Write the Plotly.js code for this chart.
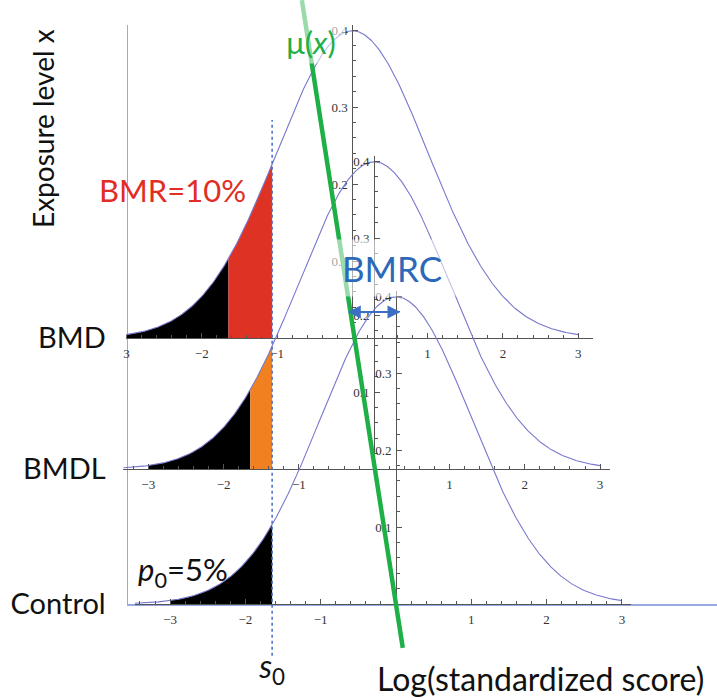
<!DOCTYPE html>
<html><head><meta charset="utf-8">
<script src="https://cdn.plot.ly/plotly-3.0.1.min.js"></script>
<style>html,body{margin:0;padding:0;background:#fff}#c{width:717px;height:698px}</style>
</head><body><div id="c"></div>
<script>
// ---------- data ----------
const panelNames   = ['BMD', 'BMDL', 'Control'];
const exposureLvl  = [2.0, 1.015, 0];          // exposure level of each panel
const panelMean    = [-0.58, -0.29, 0];         // mean log score (control units)
const s0           = -1.645;                    // control 5% cut-off (log score)
const p0Cut        = -1.645;                    // tail cut-off relative to each mean
const extraFill    = ['rgb(222,50,36)', 'rgb(240,128,32)', null];
const curveLo      = [-3.0, -3.33, -3.47];      // left end of each plotted curve
const curveHi      = [3, 3, 3];
const blackLo      = [-3.0, -3.0, -3.0];
const axisLo       = [-3.01, -3.33, -3.47];
const axisHi       = [3.2, 3.13, 3.12];
const xTickVals    = [-3, -2, -1, 1, 2, 3];
const xTickText    = [['3','−2','−1','1','2','3'], ['−3','−2','−1','1','2','3'], ['−3','−2','−1','1','2','3']];
const yTickVals    = [0.1, 0.2, 0.3, 0.4];
const yTickText    = ['0.1', '0.2', '0.3', '0.4'];
const muLineX      = [0.09, -1.25];            // μ(x) line, log score
const muLineY      = [-0.33, 4.54];            // μ(x) line, exposure
const s0LineY      = [-0.39, 3.64];
const bmrcArrowX   = [-0.66, 0.06];
const bmrcArrowY   = 2.195;

// ---------- layout geometry ----------
const W = 717, H = 698;
const X0 = 396, SX = 75.3;   // pixel of control mean, px per log-score unit
const Y0 = 604, SE = 133;    // pixel of control exposure, px per exposure unit
const SY = 770;              // px per density unit
const yTop = 0.406;

const pdf = z => Math.exp(-z * z / 2) / Math.sqrt(2 * Math.PI);
function curve(a, b) {
  const xs = [], ys = [];
  const n = Math.max(2, Math.round((b - a) / 0.01));
  for (let k = 0; k <= n; k++) { const x = a + (b - a) * k / n; xs.push(x); ys.push(pdf(x)); }
  return {xs, ys};
}

const tickFont = {family: 'Liberation Serif, serif', size: 13, color: '#333'};
const axisCol = '#555';
const traces = [];
const layout = {
  width: W, height: H, margin: {l: 0, r: 0, t: 0, b: 0},
  paper_bgcolor: '#fff', plot_bgcolor: 'rgba(0,0,0,0)', showlegend: false,
  font: {family: 'Lato, sans-serif'},
  annotations: [], shapes: []
};

// frame axes (exposure / log score)
const frameL = 128, frameT = 25;
layout.xaxis = {
  domain: [frameL / W, 1], range: [(frameL - X0) / SX, (W - X0) / SX], anchor: 'y',
  showline: true, linecolor: 'rgb(150,170,225)', linewidth: 1.5, showgrid: false, zeroline: false,
  ticks: '', tickmode: 'array', tickvals: [s0], ticktext: ['<i>s</i><sub>0</sub>'],
  tickfont: {family: 'Lato, sans-serif', size: 32, color: '#111'}, ticklabelstandoff: 34, fixedrange: true
};
layout.yaxis = {
  domain: [(H - Y0) / H, (H - frameT) / H], range: [0, (Y0 - frameT) / SE], anchor: 'x',
  showline: true, linecolor: 'rgb(150,170,225)', linewidth: 1.5, showgrid: false, zeroline: false,
  ticks: '', tickmode: 'array', tickvals: exposureLvl, ticktext: panelNames,
  tickfont: {family: 'Lato, sans-serif', size: 29, color: '#111'}, ticklabelstandoff: 15, fixedrange: true
};
traces.push({x: [], y: [], xaxis: 'x', yaxis: 'y', type: 'scatter', hoverinfo: 'skip'});

// the three density panels
panelNames.forEach((nm, i) => {
  const k = i + 2, xa = 'x' + k, ya = 'y' + k;
  const ox = X0 + panelMean[i] * SX;
  const oy = Y0 - exposureLvl[i] * SE;
  const sRel = s0 - panelMean[i];
  layout['xaxis' + k] = {
    domain: [(ox + axisLo[i] * SX) / W, (ox + axisHi[i] * SX) / W], range: [axisLo[i], axisHi[i]],
    anchor: ya, showline: true, linecolor: axisCol, linewidth: 1, showgrid: false, zeroline: false,
    ticks: 'inside', ticklen: 5, tickcolor: axisCol, tickmode: 'array', tickvals: xTickVals, ticktext: xTickText[i],
    tickfont: tickFont, ticklabelstandoff: 3,
    minor: {tickmode: 'linear', tick0: 0, dtick: 0.2, ticks: 'inside', ticklen: 3, tickcolor: axisCol},
    fixedrange: true
  };
  layout['yaxis' + k] = {
    domain: [(H - oy) / H, (H - oy + yTop * SY) / H], range: [0, yTop],
    anchor: 'free', position: ox / W, side: 'left',
    showline: true, linecolor: axisCol, linewidth: 1, showgrid: false, zeroline: false,
    ticks: 'inside', ticklen: 5, tickcolor: axisCol, tickmode: 'array', tickvals: yTickVals, ticktext: yTickText,
    tickfont: tickFont, ticklabelstandoff: 2,
    minor: {tickmode: 'linear', tick0: 0, dtick: 0.02, ticks: 'inside', ticklen: 3, tickcolor: axisCol},
    fixedrange: true
  };
  // black tail
  const b = curve(blackLo[i], p0Cut);
  traces.push({x: b.xs, y: b.ys, xaxis: xa, yaxis: ya, type: 'scatter', mode: 'lines',
    line: {width: 0}, fill: 'tozeroy', fillcolor: '#000', hoverinfo: 'skip'});
  // extra risk region
  if (extraFill[i]) {
    const r = curve(p0Cut, sRel);
    traces.push({x: r.xs, y: r.ys, xaxis: xa, yaxis: ya, type: 'scatter', mode: 'lines',
      line: {width: 0}, fill: 'tozeroy', fillcolor: extraFill[i], hoverinfo: 'skip'});
  }
  // density curve
  const c = curve(curveLo[i], curveHi[i]);
  traces.push({x: c.xs, y: c.ys, xaxis: xa, yaxis: ya, type: 'scatter', mode: 'lines',
    line: {width: 1.1, color: 'rgb(120,120,205)'}, hoverinfo: 'skip'});
});

// full-page overlay axes for μ(x) line, s0 line, arrow
layout.xaxis5 = {domain: [0, 1], range: [(0 - X0) / SX, (W - X0) / SX], anchor: 'y5', visible: false, fixedrange: true};
layout.yaxis5 = {domain: [0, 1], range: [(Y0 - H) / SE, Y0 / SE], anchor: 'x5', visible: false, fixedrange: true};
traces.push({x: [s0, s0], y: s0LineY, xaxis: 'x5', yaxis: 'y5', type: 'scatter', mode: 'lines',
  line: {color: 'rgb(80,115,205)', width: 1.6, dash: 'dot'}, hoverinfo: 'skip'});
traces.push({x: muLineX, y: muLineY, xaxis: 'x5', yaxis: 'y5', type: 'scatter', mode: 'lines',
  line: {color: 'rgb(30,175,70)', width: 4.5}, hoverinfo: 'skip'});

layout.annotations.push({
  xref: 'x5', yref: 'y5', axref: 'x5', ayref: 'y5',
  x: bmrcArrowX[1], y: bmrcArrowY, ax: bmrcArrowX[0], ay: bmrcArrowY,
  showarrow: true, arrowside: 'end+start', arrowhead: 2, arrowsize: 1.3, arrowwidth: 2,
  arrowcolor: 'rgb(60,110,195)', text: ''
});

const P = (px, py) => ({x: px / W, y: 1 - py / H});
function txt(text, px, py, opts) {
  const p = P(px, py);
  layout.annotations.push(Object.assign({xref: 'paper', yref: 'paper', x: p.x, y: p.y,
    xanchor: 'center', yanchor: 'middle', showarrow: false, text: text,
    font: {family: 'Lato, sans-serif', size: 28, color: '#111'}}, opts || {}));
}
txt('Exposure level x', 43, 129, {textangle: -90, font: {family: 'Lato, sans-serif', size: 28, color: '#111'}});
txt('BMR=10%', 172, 190, {font: {family: 'Lato, sans-serif', size: 31, color: 'rgb(225,45,35)'}});
txt('<i>p</i><sub>0</sub>=5%', 183, 571, {font: {family: 'Lato, sans-serif', size: 31, color: '#111'}});
txt('Log(standardized score)', 540, 698, {yanchor: 'bottom', yshift: -2, font: {family: 'Lato, sans-serif', size: 32, color: '#111'}});
txt('μ(<i>x</i>)', 311, 31, {width: 64, height: 60, valign: 'bottom', borderpad: 2,
  bgcolor: 'rgba(255,255,255,0.55)', font: {family: 'Lato, sans-serif', size: 31, color: 'rgb(30,175,70)'}});
txt('BMRC', 392, 268, {width: 124, height: 54, borderpad: 1,
  bgcolor: 'rgba(255,255,255,0.55)', font: {family: 'Lato, sans-serif', size: 35, color: 'rgb(45,105,185)'}});

Plotly.newPlot('c', traces, layout, {staticPlot: true, displayModeBar: false});
</script></body></html>
